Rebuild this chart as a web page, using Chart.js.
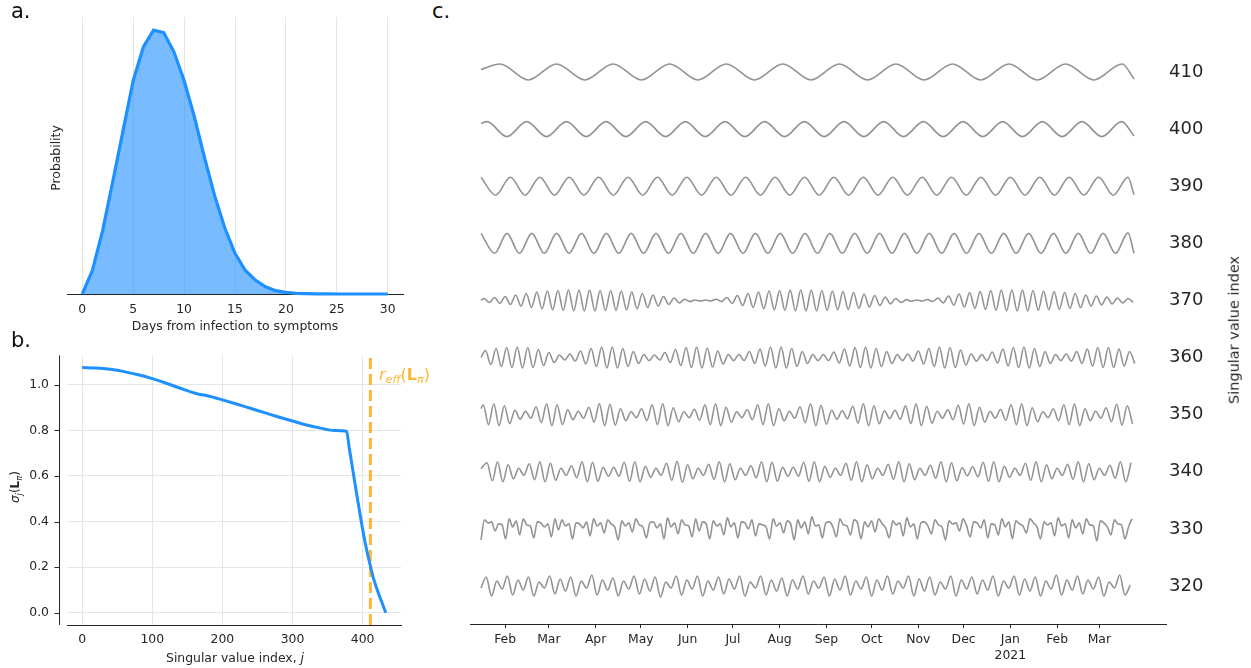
<!DOCTYPE html>
<html>
<head>
<meta charset="utf-8">
<script src="https://cdn.jsdelivr.net/npm/chart.js@4.4.1/dist/chart.umd.min.js"></script>
<style>
  html, body { margin: 0; padding: 0; background: #fff; }
  body { width: 1251px; height: 668px; position: relative; overflow: hidden;
         font-family: "DejaVu Sans", sans-serif; color: #262626; }
  canvas { position: absolute; }
  .lbl { position: absolute; white-space: nowrap; line-height: 1; }
  .mid { transform: translate(-50%, -50%); }
  .rot { transform: translate(-50%, -50%) rotate(-90deg); }
  .panel { font-size: 21px; color: #111; }
  sub { font-size: 0.7em; vertical-align: -0.3em; line-height: 0; }
</style>
</head>
<body>
<canvas id="incubation" width="420" height="340" style="left:0;top:0"></canvas>
<canvas id="spectrum" width="440" height="338" style="left:0;top:330px"></canvas>
<canvas id="vectors" width="791" height="668" style="left:460px;top:0"></canvas>

<div class="lbl panel" style="left:11px;top:1px">a.</div>
<div class="lbl panel" style="left:11px;top:330px">b.</div>
<div class="lbl panel" style="left:432px;top:1px">c.</div>

<div class="lbl mid" style="left:235px;top:326px;font-size:12.4px">Days from infection to symptoms</div>
<div class="lbl rot" style="left:56px;top:158px;font-size:12.4px">Probability</div>

<div class="lbl mid" style="left:235px;top:658px;font-size:12.4px">Singular value index, <i>j</i></div>
<div class="lbl rot" style="left:15px;top:487px;font-size:12px"><i>σ</i><sub><i>j</i></sub>(<b>L</b><sub><i>π</i></sub>)</div>
<div class="lbl" style="left:379px;top:367px;font-size:16px;color:#ffb733"><i>r</i><sub><i>eff</i></sub>(<b>L</b><sub><i>π</i></sub>)</div>

<div class="lbl rot" style="left:1234px;top:330px;font-size:14.5px">Singular value index</div>

<script>
// ---- incubation period distribution (panel a) ----
const incubationDays = [0, 1, 2, 3, 4, 5, 6, 7, 8, 9, 10, 11, 12, 13, 14, 15,
  16, 17, 18, 19, 20, 21, 22, 23, 24, 25, 26, 27, 28, 29, 30];
const incubationProb = [0, 0.0099, 0.0264, 0.047, 0.068, 0.089, 0.103, 0.110, 0.109,
  0.101, 0.089, 0.074, 0.057, 0.041, 0.0275, 0.017, 0.0099, 0.0058, 0.003, 0.0014,
  0.0007, 0.0003, 0.00015, 0.00007, 0.00003, 0.00001, 0, 0, 0, 0, 0];
const dayTicks = [0, 5, 10, 15, 20, 25, 30];

// ---- singular values of the delay operator (panel b) ----
const sigmaIndex = [0, 20, 40, 60, 80, 100, 120, 140, 165, 180, 200, 220, 240, 260, 280,
  300, 320, 340, 360, 377, 381, 386, 392, 398, 404, 411, 416, 422, 428, 433];
const sigmaValue = [1.076, 1.074, 1.068, 1.058, 1.044, 1.027, 1.007, 0.985, 0.960, 0.951,
  0.934, 0.916, 0.897, 0.878, 0.859, 0.841, 0.824, 0.810, 0.800, 0.796, 0.72, 0.625,
  0.51, 0.40, 0.30, 0.205, 0.145, 0.09, 0.04, 0.0];
const effectiveRank = 411;
const indexTicks = [0, 100, 200, 300, 400];
const sigmaTicks = [0, 0.2, 0.4, 0.6, 0.8, 1.0];

// ---- right singular vectors (panel c), day 0 = 2020-01-16 ----
const lastDay = 433;
const monthTicks = [16, 45, 76, 106, 137, 167, 198, 229, 259, 290, 320, 351, 382, 410];
const monthLabels = ['Feb', 'Mar', 'Apr', 'May', 'Jun', 'Jul', 'Aug', 'Sep', 'Oct',
  'Nov', 'Dec', ['Jan', '2021'], 'Feb', 'Mar'];
const vectorIds = [410, 400, 390, 380, 370, 360, 350, 340, 330, 320];

// slow modes: successive extrema
const wave410 = [0.8, -0.8, 0.8, -0.8, 0.8, -0.8, 0.8, -0.8, 0.8, -0.8, 0.8, -0.8,
  0.8, -0.8, 0.8, -0.8, 0.8, -0.8, 0.8, -0.8, 0.8, -0.8, 0.8];
const wave400 = [0.75, -0.75, 0.75, -0.75, 0.75, -0.75, 0.75, -0.75, 0.75, -0.75, 0.75,
  -0.75, 0.75, -0.75, 0.75, -0.75, 0.75, -0.75, 0.75, -0.75, 0.75, -0.75, 0.75, -0.75,
  0.75, -0.75, 0.75, -0.75, 0.75, -0.75, 0.75, -0.75, 0.75];
const wave390 = [0.9, -0.9, 0.9, -0.9, 0.9, -0.9, 0.9, -0.9, 0.9, -0.9, 0.9, -0.9,
  0.9, -0.9, 0.9, -0.9, 0.9, -0.9, 0.9, -0.9, 0.9, -0.9, 0.9, -0.9, 0.9, -0.9,
  0.9, -0.9, 0.9, -0.9, 0.9, -0.9, 0.9, -0.9, 0.9, -0.9, 0.9, -0.9, 0.9, -0.9,
  0.9, -0.9, 0.9, -0.9, 0.9];
const wave380 = [-1.0, 1.0, -1.0, 1.0, -1.0, 1.0, -1.0, 1.0, -1.0, 1.0, -1.0, 1.0,
  -1.0, 1.0, -1.0, 1.0, -1.0, 1.0, -1.0, 1.0, -1.0, 1.0, -1.0, 1.0, -1.0, 1.0,
  -1.0, 1.0, -1.0, 1.0, -1.0, 1.0, -1.0, 1.0, -1.0, 1.0, -1.0, 1.0, -1.0, 1.0,
  -1.0, 1.0, -1.0, 1.0, -1.0, 1.0, -1.0, 1.0, -1.0, 1.0, -1.0, 1.05];

// weekly modes: swing of each 7-day cycle
const amp370 = [0.2, 0.3, 0.4, 0.55, 0.7, 0.85, 0.95, 1.0, 1.05, 1.05,
  1.05, 1.0, 1.0, 0.95, 0.85, 0.7, 0.55, 0.4, 0.25, 0.12,
  0.05, 0.05, 0.12, 0.3, 0.5, 0.7, 0.85, 0.95, 1.0, 1.05,
  1.05, 1.05, 1.0, 0.95, 0.9, 0.8, 0.65, 0.5, 0.35, 0.2,
  0.08, 0.05, 0.1, 0.25, 0.45, 0.65, 0.8, 0.9, 1.0, 1.05,
  1.05, 1.05, 1.0, 0.95, 0.9, 0.8, 0.7, 0.55, 0.45, 0.35, 0.25, 0.2];
const amp360 = [0.7, 0.9, 1.0, 1.05, 1.0, 0.8, 0.5, 0.25, 0.35, 0.65,
  0.9, 1.05, 1.05, 0.9, 0.6, 0.3, 0.25, 0.5, 0.8, 1.0,
  1.05, 0.95, 0.65, 0.3, 0.3, 0.6, 0.85, 1.05, 1.05, 0.9,
  0.6, 0.3, 0.3, 0.55, 0.85, 1.0, 1.05, 0.9, 0.6, 0.3,
  0.35, 0.65, 0.9, 1.05, 1.0, 0.75, 0.35, 0.3, 0.55, 0.85,
  1.0, 1.05, 0.9, 0.6, 0.3, 0.35, 0.6, 0.85, 1.0, 1.0, 0.85, 0.6];
const amp350 = [1.0, 1.1, 0.9, 0.45, 0.35, 0.8, 1.1, 1.0, 0.5, 0.35,
  0.75, 1.1, 1.05, 0.6, 0.3, 0.6, 1.0, 1.1, 0.7, 0.3,
  0.55, 1.0, 1.1, 0.75, 0.3, 0.5, 1.0, 1.1, 0.6, 0.35,
  0.8, 1.1, 0.95, 0.45, 0.4, 0.85, 1.1, 0.9, 0.4, 0.45,
  0.9, 1.1, 0.85, 0.35, 0.5, 0.95, 1.1, 0.75, 0.35, 0.55,
  1.0, 1.1, 0.7, 0.3, 0.6, 1.0, 1.1, 0.6, 0.35, 0.7, 1.05, 0.9];
const amp340 = [0.9, 1.0, 0.7, 0.35, 0.8, 1.0, 0.85, 0.35, 0.6, 1.0,
  0.95, 0.45, 0.45, 0.95, 1.0, 0.55, 0.35, 0.85, 1.05, 0.7,
  0.35, 0.75, 1.0, 0.8, 0.35, 0.6, 1.0, 0.95, 0.45, 0.45,
  0.95, 1.0, 0.55, 0.35, 0.85, 1.0, 0.7, 0.35, 0.75, 1.0,
  0.8, 0.35, 0.65, 1.0, 0.9, 0.4, 0.5, 0.95, 1.0, 0.55,
  0.35, 0.85, 1.0, 0.7, 0.35, 0.75, 1.0, 0.8, 0.35, 0.65, 1.0, 0.9];

// noisy modes: samples every third of a week (330) and every half week (320)
const wave330 = [-1.1, 0.9, 0.6, 0.7, -0.2, 0.5, 0.4, -1.0, 1.0, 0.2, 0.8, -0.6,
  1.0, 0.4, 0.3, -0.9, 0.7, 0.6, 0.2, 0.5, -0.8, 1.0, -0.1, 0.9,
  0.3, 0.5, -1.0, 0.6, 0.5, 0.1, 0.7, -0.7, 1.0, 0.3, 0.6, -0.4,
  0.9, 0.5, 0.2, -1.1, 0.8, 0.3, 0.6, -0.3, 1.0, 0.4, 0.2, -0.9,
  0.6, 0.7, 0.1, 0.5, -1.0, 1.1, 0.2, 0.6, -0.5, 0.9, 0.4, 0.3,
  -0.8, 1.0, -0.2, 0.7, 0.5, -1.0, 0.8, 0.3, 0.5, -0.6, 1.1, 0.2,
  0.6, -0.9, 0.7, 0.6, 0.0, 0.9, -0.7, 0.5, 0.4, 0.2, -1.0, 1.0,
  0.3, 0.6, -0.4, 0.8, 0.5, -1.1, 0.9, 0.1, 0.7, -0.5, 1.2, 0.3,
  0.4, -0.9, 0.6, 0.7, 0.2, -0.8, 1.0, 0.4, 0.3, -0.6, 0.9, 0.6,
  -1.0, 0.7, 0.2, 0.8, -0.3, 1.0, 0.5, 0.1, -0.9, 0.8, 0.4, 0.6,
  -0.7, 1.1, 0.2, 0.5, -1.0, 0.6, 0.7, 0.3, -0.5, 0.9, 0.4, 0.2,
  -1.1, 0.8, 0.5, 0.6, -0.2, 1.0, 0.3, -0.8, 0.7, 0.6, 0.1, 0.9,
  -0.9, 0.5, 0.4, -0.6, 1.0, 0.2, 0.7, -1.0, 0.8, 0.5, 0.3, -0.4,
  1.0, 0.6, 0.2, -1.0, 0.7, 0.4, 0.6, -0.7, 1.1, 0.3, 0.5, -0.9,
  0.9, 0.1, 0.6, -0.5, 1.0, 0.4, 0.3, -1.2, 0.8, 0.6, 0.2, -0.6,
  0.9, 0.5, 0.4, -1.0, 0.2, 1.0];
const wave320 = [-0.2, 0.9, -1.0, 0.5, -0.3, 1.0, -0.9, 0.6, -0.4, 0.9, -1.0, 0.4,
  -0.2, 1.0, -0.8, 0.7, -0.5, 0.9, -1.0, 0.5, -0.2, 1.1, -0.9, 0.6,
  -0.4, 0.8, -1.0, 0.5, -0.3, 1.0, -0.8, 0.7, -0.5, 0.9, -1.1, 0.4,
  -0.2, 1.0, -0.9, 0.6, -0.3, 1.0, -1.0, 0.5, -0.4, 0.9, -0.8, 0.7,
  -0.3, 1.0, -1.0, 0.4, -0.2, 1.0, -0.9, 0.6, -0.5, 0.8, -1.0, 0.6,
  -0.3, 1.0, -0.8, 0.5, -0.2, 0.9, -1.0, 0.7, -0.4, 1.0, -0.9, 0.5,
  -0.3, 0.9, -1.0, 0.6, -0.4, 1.0, -0.8, 0.5, -0.2, 1.0, -1.0, 0.7,
  -0.5, 0.9, -0.9, 0.4, -0.3, 1.0, -1.0, 0.6, -0.3, 0.9, -0.8, 0.6,
  -0.4, 1.0, -1.0, 0.5, -0.2, 1.0, -0.9, 0.7, -0.5, 0.9, -1.0, 0.5,
  -0.3, 1.1, -0.9, 0.6, -0.4, 1.0, -0.8, 0.6, -0.3, 0.9, -1.0, 0.4,
  -0.2, 1.1, -0.9, 0.1];

// ---------------------------------------------------------------------------

const BLUE = '#1e90ff';
const ORANGE = 'rgba(255,165,0,0.8)';
const GRID = '#e5e5e5';
const INK = '#262626';
const tickFont = { family: 'DejaVu Sans', size: 12.4 };

Chart.defaults.font.family = 'DejaVu Sans';
Chart.defaults.color = INK;

const fixTicks = values => scale => { scale.ticks = values.map(v => ({ value: v })); };
const fixHeight = h => scale => { scale.height = h; };
const fixWidth = w => scale => { scale.width = w; };

// left spine drawn a few pixels away from the plot, with its tick marks
const offsetSpine = {
  id: 'offsetSpine',
  afterDraw(chart, args, opts) {
    if (!opts || !opts.offset) return;
    const { ctx, chartArea } = chart;
    const y = chart.scales.y;
    const x0 = Math.round(chartArea.left - opts.offset) + 0.5;
    ctx.save();
    ctx.strokeStyle = INK;
    ctx.lineWidth = 1;
    ctx.beginPath();
    ctx.moveTo(x0, chartArea.top);
    ctx.lineTo(x0, chartArea.bottom);
    y.ticks.forEach(t => {
      const py = Math.round(y.getPixelForValue(t.value)) + 0.5;
      ctx.moveTo(x0 - opts.tick, py);
      ctx.lineTo(x0, py);
    });
    ctx.stroke();
    ctx.restore();
  }
};
Chart.register(offsetSpine);

// panel a
new Chart(document.getElementById('incubation'), {
  type: 'line',
  data: {
    datasets: [{
      data: incubationDays.map((d, i) => ({ x: d, y: incubationProb[i] })),
      borderColor: BLUE,
      borderWidth: 3.2,
      backgroundColor: 'rgba(30,144,255,0.6)',
      fill: 'origin',
      pointRadius: 0,
      tension: 0,
      clip: false
    }]
  },
  options: {
    responsive: false,
    animation: false,
    layout: { padding: { left: 67, right: 17, top: 17, bottom: 0 } },
    plugins: { legend: { display: false }, tooltip: { enabled: false } },
    scales: {
      x: {
        type: 'linear', min: -1.5, max: 31.5,
        afterBuildTicks: fixTicks(dayTicks),
        afterFit: fixHeight(46),
        grid: { color: GRID, drawTicks: false },
        border: { display: true, color: INK, width: 1 },
        ticks: { font: tickFont, color: INK, padding: 8, maxRotation: 0 }
      },
      y: { display: false, min: 0, max: 0.1155 }
    }
  }
});

// panel b
const yLo = -0.054, yHi = 1.129;
new Chart(document.getElementById('spectrum'), {
  type: 'line',
  data: {
    datasets: [{
      data: sigmaIndex.map((j, i) => ({ x: j, y: sigmaValue[i] })),
      borderColor: BLUE,
      borderWidth: 3,
      pointRadius: 0,
      cubicInterpolationMode: 'monotone',
      clip: false
    }, {
      data: [{ x: effectiveRank, y: yLo }, { x: effectiveRank, y: yHi }],
      borderColor: ORANGE,
      borderWidth: 3,
      borderDash: [11, 5],
      pointRadius: 0
    }]
  },
  options: {
    responsive: false,
    animation: false,
    layout: { padding: { left: 0, right: 39, top: 17, bottom: 0 } },
    plugins: {
      legend: { display: false }, tooltip: { enabled: false },
      offsetSpine: { offset: 8, tick: 5 }
    },
    scales: {
      x: {
        type: 'linear', min: -21.65, max: 454.65,
        afterBuildTicks: fixTicks(indexTicks),
        afterFit: fixHeight(43),
        grid: { color: GRID, drawTicks: false },
        border: { display: true, color: INK, width: 1 },
        ticks: { font: tickFont, color: INK, padding: 7, maxRotation: 0 }
      },
      y: {
        min: yLo, max: yHi,
        afterBuildTicks: fixTicks(sigmaTicks),
        afterFit: fixWidth(67),
        grid: { color: GRID, drawTicks: false },
        border: { display: false },
        ticks: { font: tickFont, color: INK, padding: 18, callback: v => v.toFixed(1) }
      }
    }
  }
});

// panel c
const AMP = 1.75; // vertical swing of one unit, in index units

function alternating(first, step, ext) {
  return ext.map((v, i) => [first + i * step, v]);
}
function weekly(first, amps) {
  const out = [];
  amps.forEach((a, k) => {
    out.push([first + 7 * k, a]);
    out.push([first + 7 * k + 3.5, -a]);
  });
  return out;
}

const vectorShapes = {
  410: { head: 0.25, pts: alternating(12.6, 18.75, wave410), tail: -0.7 },
  400: { head: 0.55, pts: alternating(4, 13.15, wave400), tail: -0.7 },
  390: { head: null, pts: alternating(0, 9.75, wave390), tail: -0.85 },
  380: { head: 1.0, pts: alternating(9, 8.235, wave380), tail: -1.0 },
  370: { head: 0.0, pts: weekly(2, amp370), tail: null },
  360: { head: 0.0, pts: weekly(3, amp360), tail: null },
  350: { head: 0.6, pts: weekly(1.5, amp350), tail: null },
  340: { head: 0.3, pts: weekly(4, amp340), tail: null },
  330: { head: null, pts: alternating(0, 7 / 3, wave330), tail: null },
  320: { head: null, pts: alternating(0, 3.5, wave320), tail: null }
};

const vectorSets = vectorIds.map(id => {
  const s = vectorShapes[id];
  let pts = s.pts.filter(p => p[0] <= lastDay + 0.5);
  if (s.head !== null) pts = [[0, s.head]].concat(pts);
  if (s.tail !== null) pts = pts.concat([[lastDay, s.tail]]);
  return {
    data: pts.map(p => ({ x: p[0], y: id + AMP * p[1] })),
    borderColor: 'rgba(128,128,128,0.85)',
    borderWidth: 1.6,
    pointRadius: 0,
    cubicInterpolationMode: 'monotone'
  };
});

new Chart(document.getElementById('vectors'), {
  type: 'line',
  data: { datasets: vectorSets },
  options: {
    responsive: false,
    animation: false,
    layout: { padding: { left: 10, right: 35, top: 40, bottom: 0 } },
    plugins: { legend: { display: false }, tooltip: { enabled: false } },
    scales: {
      x: {
        type: 'linear', min: -7.29, max: 454.2,
        afterBuildTicks: fixTicks(monthTicks),
        afterFit: fixHeight(44),
        grid: { display: true, drawOnChartArea: false, drawTicks: true, tickLength: 4, tickColor: INK },
        border: { display: true, color: INK, width: 1 },
        ticks: {
          font: { family: 'DejaVu Sans', size: 12.4, lineHeight: 1.3 },
          color: INK, padding: 4, maxRotation: 0, autoSkip: false,
          callback: (v, i) => monthLabels[i]
        }
      },
      y: {
        position: 'right',
        min: 313.35, max: 415.6,
        afterBuildTicks: fixTicks(vectorIds),
        afterFit: fixWidth(50),
        grid: { display: false, drawTicks: false },
        border: { display: false },
        ticks: { font: { family: 'DejaVu Sans', size: 18 }, color: INK, padding: 3, callback: v => String(v) }
      }
    }
  }
});
</script>
</body>
</html>
